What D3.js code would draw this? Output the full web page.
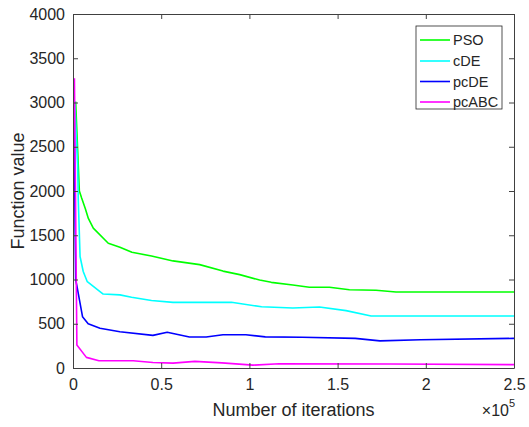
<!DOCTYPE html>
<html>
<head>
<meta charset="utf-8">
<script src="https://cdn.jsdelivr.net/npm/d3@7"></script>
<style>
  html, body { margin: 0; padding: 0; background: #fff; }
  svg { display: block; }
  text { font-family: "Liberation Sans", Arial, sans-serif; fill: #262626; }
</style>
</head>
<body>
<div id="chart"></div>
<script>
// ---- data (iterations, function value) ----
const seriesNames = ["PSO", "cDE", "pcDE", "pcABC"];
const seriesColors = ["#00ff00", "#00ffff", "#0000ff", "#ff00ff"];

const psoData = [
  [1500, 3010], [3600, 2000], [4900, 1920], [7000, 1800], [8700, 1690], [11500, 1580],
  [20000, 1410], [26600, 1364], [33400, 1307], [44500, 1266], [56700, 1210], [71800, 1168],
  [85000, 1095], [94500, 1055], [105800, 994], [112400, 968], [124600, 938], [134000, 912],
  [145400, 912], [156700, 885], [171800, 878], [183100, 859], [250000, 859]
];
const cdeData = [
  [1000, 3010], [2600, 2300], [3000, 1900], [4000, 1260], [5800, 1090], [8100, 975],
  [17100, 836], [26600, 826], [33200, 800], [44500, 762], [56700, 742], [89800, 742],
  [106900, 692], [124600, 678], [139700, 689], [154800, 648], [169000, 588], [250000, 588]
];
const pcdeData = [
  [500, 3010], [1500, 1000], [2100, 940], [5400, 580], [8600, 500], [15300, 450],
  [26600, 410], [45300, 369], [53400, 403], [66000, 350], [75500, 350], [85000, 376],
  [98000, 376], [109000, 352], [130000, 348], [160000, 335], [174000, 307], [197000, 320],
  [250000, 335]
];
const pcabcData = [
  [800, 3273], [2200, 260], [7600, 120], [14700, 82], [34100, 82], [45300, 62], [56700, 55],
  [69100, 75], [84400, 58], [102000, 32], [116900, 48], [180000, 45], [250000, 38]
];
const allSeries = [psoData, cdeData, pcdeData, pcabcData];

const xTicks = [0, 50000, 100000, 150000, 200000, 250000];
const xTickLabels = ["0", "0.5", "1", "1.5", "2", "2.5"];
const yTicks = [0, 500, 1000, 1500, 2000, 2500, 3000, 3500, 4000];

// ---- layout ----
const W = 529, H = 427;
const m = { left: 73, right: 514, top: 14, bottom: 368 };

const svg = d3.select("#chart").append("svg").attr("width", W).attr("height", H);

const x = d3.scaleLinear().domain([0, 250000]).range([m.left, m.right]);
const y = d3.scaleLinear().domain([0, 4000]).range([m.bottom, m.top]);

const axisColor = "#404040";

// lines
const line = d3.line().x(d => x(d[0])).y(d => y(d[1]));
svg.append("g").selectAll("path").data(allSeries).join("path")
  .attr("d", line)
  .attr("fill", "none")
  .attr("stroke", (d, i) => seriesColors[i])
  .attr("stroke-width", 1.6)
  .attr("stroke-linejoin", "round");

// axes with inward ticks
const tickLen = 5;
const bottomAxis = d3.axisBottom(x).tickValues(xTicks).tickFormat((d, i) => xTickLabels[i])
  .tickSizeInner(-tickLen).tickSizeOuter(0).tickPadding(11);
const topAxis = d3.axisTop(x).tickValues(xTicks).tickFormat("").tickSizeInner(-tickLen).tickSizeOuter(0);
const leftAxis = d3.axisLeft(y).tickValues(yTicks).tickFormat(d3.format("d"))
  .tickSizeInner(-tickLen).tickSizeOuter(0).tickPadding(8);
const rightAxis = d3.axisRight(y).tickValues(yTicks).tickFormat("").tickSizeInner(-tickLen).tickSizeOuter(0);

function styleAxis(g) {
  g.select(".domain").attr("stroke", axisColor).attr("stroke-width", 1);
  g.selectAll(".tick line").attr("stroke", axisColor).attr("stroke-width", 1);
  g.selectAll(".tick text").attr("fill", "#262626")
    .style("font-family", '"Liberation Sans", Arial, sans-serif').style("font-size", "16px");
}
svg.append("g").attr("transform", `translate(0,${m.bottom})`).call(bottomAxis).call(styleAxis);
svg.append("g").attr("transform", `translate(0,${m.top})`).call(topAxis).call(styleAxis);
svg.append("g").attr("transform", `translate(${m.left},0)`).call(leftAxis).call(styleAxis);
svg.append("g").attr("transform", `translate(${m.right},0)`).call(rightAxis).call(styleAxis);

// axis labels
svg.append("text")
  .attr("x", (m.left + m.right) / 2).attr("y", 416)
  .attr("text-anchor", "middle").style("font-size", "18px")
  .text("Number of iterations");

svg.append("text")
  .attr("transform", `translate(24,${(m.top + m.bottom) / 2}) rotate(-90)`)
  .attr("text-anchor", "middle").style("font-size", "18px")
  .text("Function value");

// exponent label
svg.append("text").attr("x", 509).attr("y", 416)
  .attr("text-anchor", "end").style("font-size", "16px")
  .text("\u00d710");
svg.append("text").attr("x", 509).attr("y", 407).style("font-size", "11px").text("5");

// legend
const lg = svg.append("g");
const lgX = 416, lgY = 26, lgW = 86, lgH = 83;
lg.append("rect").attr("x", lgX).attr("y", lgY).attr("width", lgW).attr("height", lgH)
  .attr("fill", "#fff").attr("stroke", "#262626").attr("stroke-width", 0.8);
const rowY = [40, 61, 81.5, 102];
seriesNames.forEach((name, i) => {
  lg.append("line").attr("x1", lgX + 4).attr("x2", lgX + 34)
    .attr("y1", rowY[i]).attr("y2", rowY[i])
    .attr("stroke", seriesColors[i]).attr("stroke-width", 1.6);
  lg.append("text").attr("x", lgX + 37).attr("y", rowY[i] + 5)
    .style("font-size", "14.5px").text(name);
});
</script>
</body>
</html>
